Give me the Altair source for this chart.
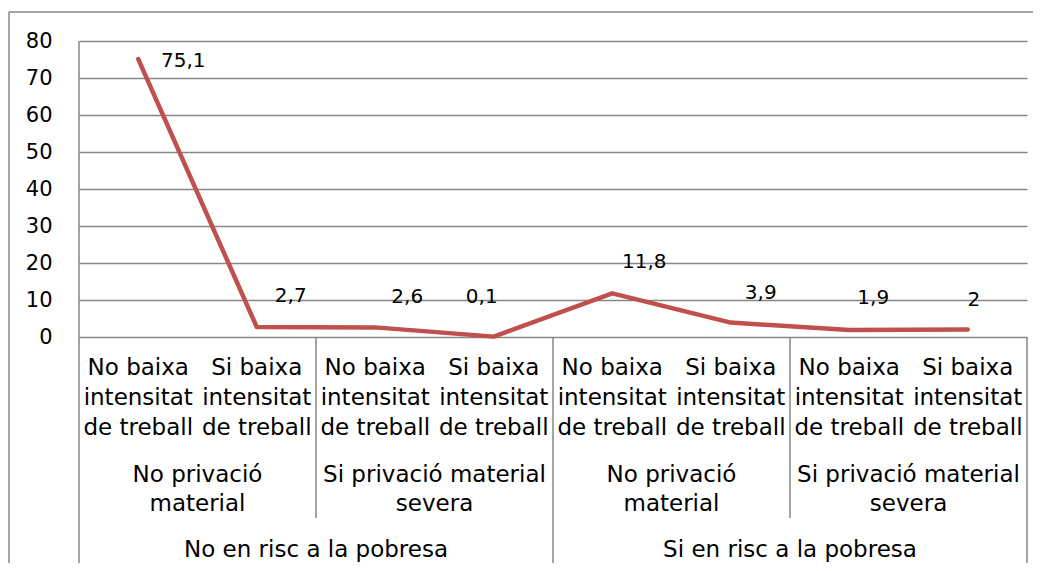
import altair as alt
import pandas as pd

# ---- data ----
tier1 = ["No baixa\nintensitat\nde treball", "Si baixa\nintensitat\nde treball"] * 4
tier2 = ["No privació\nmaterial", "Si privació material\nsevera",
         "No privació\nmaterial", "Si privació material\nsevera"]
tier3 = ["No en risc a la pobresa", "Si en risc a la pobresa"]
values = [75.1, 2.7, 2.6, 0.1, 11.8, 3.9, 1.9, 2.0]
value_labels = ["75,1", "2,7", "2,6", "0,1", "11,8", "3,9", "1,9", "2"]
y_ticks = [0, 10, 20, 30, 40, 50, 60, 70, 80]

n = len(values)
df = pd.DataFrame({"i": list(range(n)), "v": values, "lab": value_labels, "t1": tier1})
g2 = n // len(tier2)
g3 = n // len(tier3)
df2 = pd.DataFrame({"x": [k * g2 + (g2 - 1) / 2 for k in range(len(tier2))], "t2": tier2})
df3 = pd.DataFrame({"x": [k * g3 + (g3 - 1) / 2 for k in range(len(tier3))], "t3": tier3})
short_sep = pd.DataFrame({"x": [k * g2 - 0.5 for k in range(1, len(tier2)) if (k * g2) % g3 != 0]})
long_sep = pd.DataFrame({"x": [k * g3 - 0.5 for k in range(1, len(tier3) + 1)]})
left_sep = pd.DataFrame({"x": [-0.5]})

W, H = 948, 296
GRID = "#868686"
FONT = "DejaVu Sans"
LINE = "#C0504D"

xscale = alt.Scale(domain=[-0.5, n - 0.5], nice=False, zero=False)
yscale = alt.Scale(domain=[0, 80], nice=False)
yaxis = alt.Axis(values=y_ticks, domain=False, ticks=False, title=None,
                 labelFont=FONT, labelFontSize=21, labelColor="black",
                 labelPadding=27, grid=True, gridColor=GRID, gridWidth=1.5)


def XF(field):
    return alt.X(field, type="quantitative", scale=xscale, axis=None)


YV = alt.Y("v", type="quantitative", scale=yscale, axis=yaxis)

base = alt.Chart(df)

line = base.mark_line(color=LINE, strokeWidth=4.5, strokeCap="round", strokeJoin="round").encode(
    x=XF("i"), y=YV)

offsets = [(45, 2), (34, -31), (32, -30), (-12, -40), (32, -31), (30, -30), (24, -32), (6, -30)]
label_layers = []
for k, (ddx, ddy) in enumerate(offsets):
    label_layers.append(
        base.transform_filter(alt.datum.i == k).mark_text(
            font=FONT, fontSize=20, color="black", align="center", baseline="middle",
            dx=ddx, dy=ddy).encode(x=XF("i"), y=YV, text="lab:N")
    )

t1 = base.mark_text(font=FONT, fontSize=23, color="black", align="center", baseline="middle",
                    lineBreak="\n", lineHeight=30).encode(
    x=XF("i"), y=alt.value(H + 31), text="t1:N")

t2 = alt.Chart(df2).mark_text(font=FONT, fontSize=23, color="black", align="center",
                              baseline="middle", lineBreak="\n", lineHeight=29).encode(
    x=XF("x"), y=alt.value(H + 138), text="t2:N")

t3 = alt.Chart(df3).mark_text(font=FONT, fontSize=23, color="black", align="center",
                              baseline="middle").encode(
    x=XF("x"), y=alt.value(H + 213), text="t3:N")

rs = alt.Chart(short_sep).mark_rule(color=GRID, strokeWidth=1.5).encode(
    x=XF("x"), y=alt.value(H), y2=alt.value(H + 181))
rl = alt.Chart(long_sep).mark_rule(color=GRID, strokeWidth=1.5).encode(
    x=XF("x"), y=alt.value(H), y2=alt.value(H + 240))
rleft = alt.Chart(left_sep).mark_rule(color=GRID, strokeWidth=1.5).encode(
    x=XF("x"), y=alt.value(0), y2=alt.value(H + 240))

border_top = alt.Chart(left_sep).mark_rule(color=GRID, strokeWidth=1.5).encode(
    x=alt.value(-70), x2=alt.value(W + 20), y=alt.value(-29))
border_left = alt.Chart(left_sep).mark_rule(color=GRID, strokeWidth=1.5).encode(
    x=alt.value(-70), y=alt.value(-29), y2=alt.value(H + 240))

chart = alt.layer(
    line, border_top, border_left, rs, rl, rleft, t1, t2, t3, *label_layers
).properties(
    width=W, height=H,
    autosize=alt.AutoSizeParams(type="none"),
    padding={"left": 71, "top": 33, "right": 6, "bottom": 226},
    background="white",
).configure_view(stroke=None)

chart.save("out.html", embed_options={"renderer": "svg", "actions": False})
